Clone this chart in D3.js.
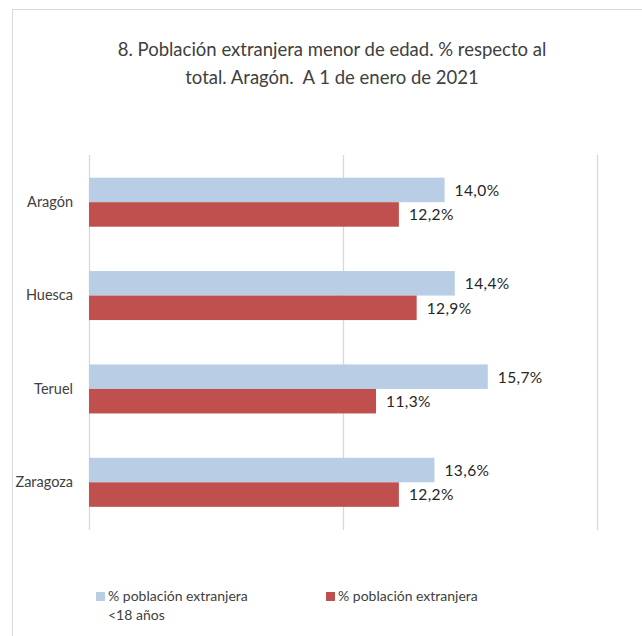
<!DOCTYPE html>
<html><head><meta charset="utf-8">
<script src="https://cdn.jsdelivr.net/npm/d3@7"></script>
<style>
html,body{margin:0;padding:0;background:#fff;}
svg{display:block;}
text{font-family:Lato,"Open Sans",sans-serif;white-space:pre;}
</style></head>
<body>
<script>
const categories = ["Aragón","Huesca","Teruel","Zaragoza"];
const seriesNames = ["% población extranjera <18 años","% población extranjera"];
const under18 = [14.0,14.4,15.7,13.6];
const totalPct = [12.2,12.9,11.3,12.2];
const titleLines = ["8. Población extranjera menor de edad. % respecto al","total. Aragón.  A 1 de enero de 2021"];
const colors = ["#B9CDE5","#C0504D"];

const W=642,H=636;
const svg=d3.select("body").append("svg").attr("width",W).attr("height",H);

// chart border
svg.append("rect").attr("x",12.5).attr("y",9.5).attr("width",W).attr("height",H)
  .attr("fill","none").attr("stroke","#D9D9D9");

// title
svg.append("text").attr("x",332).attr("y",50).attr("text-anchor","middle")
  .attr("fill","#404040").attr("font-size",18.5).attr("xml:space","preserve")
  .selectAll("tspan").data(titleLines).join("tspan")
  .attr("x",332).attr("dy",(d,i)=>i?28:6).text(d=>d);

const x=d3.scaleLinear().domain([0,20]).range([89,597]);
const y=d3.scaleBand().domain(categories).range([155.5,529]).paddingInner(0.475).paddingOuter(0.2375);
const ys=d3.scaleBand().domain(seriesNames).range([0,y.bandwidth()]);

// gridlines
svg.append("g").selectAll("line").data(x.ticks(2)).join("line")
  .attr("x1",d=>Math.round(x(d))+0.5).attr("x2",d=>Math.round(x(d))+0.5)
  .attr("y1",155).attr("y2",530).attr("stroke","#D9D9D9").attr("stroke-width",1.3);

const rows=categories.map((c,i)=>({cat:c,vals:[under18[i],totalPct[i]]}));
const g=svg.append("g").selectAll("g").data(rows).join("g")
  .attr("transform",d=>`translate(0,${y(d.cat)})`);
g.selectAll("rect").data(d=>d.vals.map((v,j)=>({v,s:seriesNames[j],j}))).join("rect")
  .attr("x",x(0)).attr("y",d=>ys(d.s)).attr("width",d=>x(d.v)-x(0)).attr("height",ys.bandwidth())
  .attr("fill",d=>colors[d.j]);
g.selectAll("text.val").data(d=>d.vals.map((v,j)=>({v,s:seriesNames[j],j}))).join("text")
  .attr("class","val").attr("x",d=>x(d.v)+10).attr("y",d=>ys(d.s)+ys.bandwidth()/2+2)
  .attr("dominant-baseline","middle").attr("font-size",15.5).attr("letter-spacing",0.4).attr("fill","#262626")
  .text(d=>d3.format(".1f")(d.v).replace(".",",")+"%");

// category axis
const yAxis=svg.append("g").attr("transform",`translate(${x(0)},0)`).call(d3.axisLeft(y).tickSize(0).tickPadding(16));
yAxis.select(".domain").remove();
yAxis.selectAll("text").attr("font-size",14.5).attr("fill","#404040").attr("font-family","Lato,'Open Sans',sans-serif");

// legend
const legendX=[96,326];
const lg=svg.append("g").selectAll("g").data(seriesNames).join("g")
  .attr("transform",(d,i)=>`translate(${legendX[i]},597)`);
lg.append("rect").attr("x",0).attr("y",-5).attr("width",9).attr("height",9).attr("fill",(d,i)=>colors[i]);
lg.append("text").attr("x",12).attr("y",0).attr("dominant-baseline","middle")
  .attr("font-size",14).attr("fill","#404040")
  .each(function(d,i){
    const t=d3.select(this);
    const lines=i===0?["% población extranjera","<18 años"]:[d];
    lines.forEach((l,k)=>t.append("tspan").attr("x",12).attr("dy",k?19:0).text(l));
  });
</script>
</body></html>
